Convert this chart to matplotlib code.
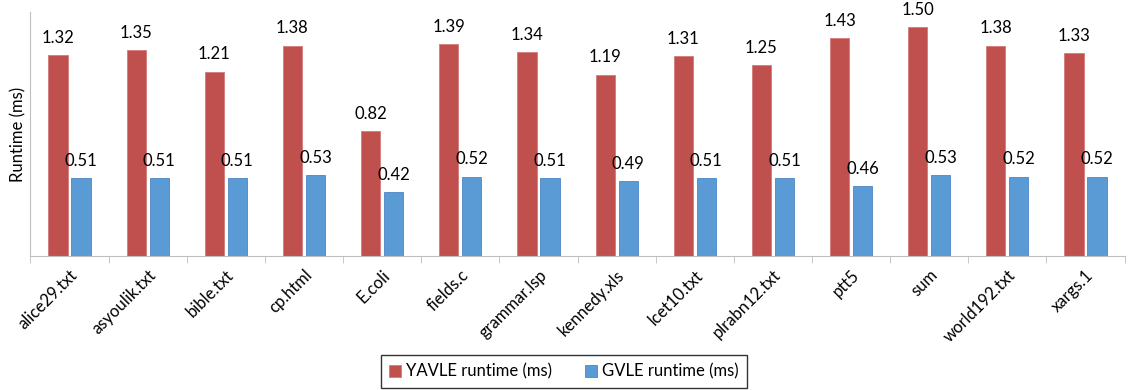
import matplotlib
matplotlib.use("Agg")
from matplotlib import pyplot as plt
import numpy as np

files = ["alice29.txt", "asyoulik.txt", "bible.txt", "cp.html", "E.coli",
         "fields.c", "grammar.lsp", "kennedy.xls", "lcet10.txt", "plrabn12.txt",
         "ptt5", "sum", "world192.txt", "xargs.1"]
yavle_ms = [1.32, 1.35, 1.21, 1.38, 0.82, 1.39, 1.34, 1.19, 1.31, 1.25, 1.43, 1.50, 1.38, 1.33]
gvle_ms = [0.51, 0.51, 0.51, 0.53, 0.42, 0.52, 0.51, 0.49, 0.51, 0.51, 0.46, 0.53, 0.52, 0.52]

plt.rcParams["font.family"] = ["Lato", "DejaVu Sans"]

fig = plt.figure(figsize=(11.28, 3.9), dpi=100)
ax = fig.add_axes([0.027, 0.344, 0.970, 0.625])

x = np.arange(len(files))
w = 0.245
gap = 0.025
red = "#C0504D"
blue = "#5B9BD5"

b1 = ax.bar(x - w / 2 - gap, yavle_ms, w, color=red, edgecolor="#D47A78",
            linewidth=0.6, label="YAVLE runtime (ms)")
b2 = ax.bar(x + w / 2 + gap, gvle_ms, w, color=blue, edgecolor="#4A86C5",
            linewidth=0.6, label="GVLE runtime (ms)")

for bars in (b1, b2):
    for r in bars:
        ax.text(r.get_x() + r.get_width() / 2, r.get_height() + 0.06,
                f"{r.get_height():.2f}", ha="center", va="bottom", fontsize=12)

ax.set_xlim(-0.5, len(files) - 0.5)
ax.set_ylim(0, 1.6)
ax.set_yticks([])
ax.set_ylabel("Runtime (ms)", fontsize=12, labelpad=3)

ax.set_xticks(x)
ax.set_xticklabels(files, rotation=45, ha="right", rotation_mode="anchor", fontsize=12)
ax.tick_params(axis="x", which="major", length=0, pad=8)
ax.set_xticks(np.arange(len(files) + 1) - 0.5, minor=True)
ax.tick_params(axis="x", which="minor", length=5, color="#BFBFBF")

for s in ("top", "right"):
    ax.spines[s].set_visible(False)
for s in ("left", "bottom"):
    ax.spines[s].set_color("#BFBFBF")

leg = fig.legend(loc="lower center", bbox_to_anchor=(0.5, 0.005), ncol=2,
                 fontsize=12, frameon=True, fancybox=False, edgecolor="black",
                 handlelength=0.7, handleheight=0.7, handletextpad=0.3,
                 columnspacing=2.0, borderpad=0.5, borderaxespad=0)
leg.get_frame().set_linewidth(1.0)

fig.savefig("out.png", dpi=100)
